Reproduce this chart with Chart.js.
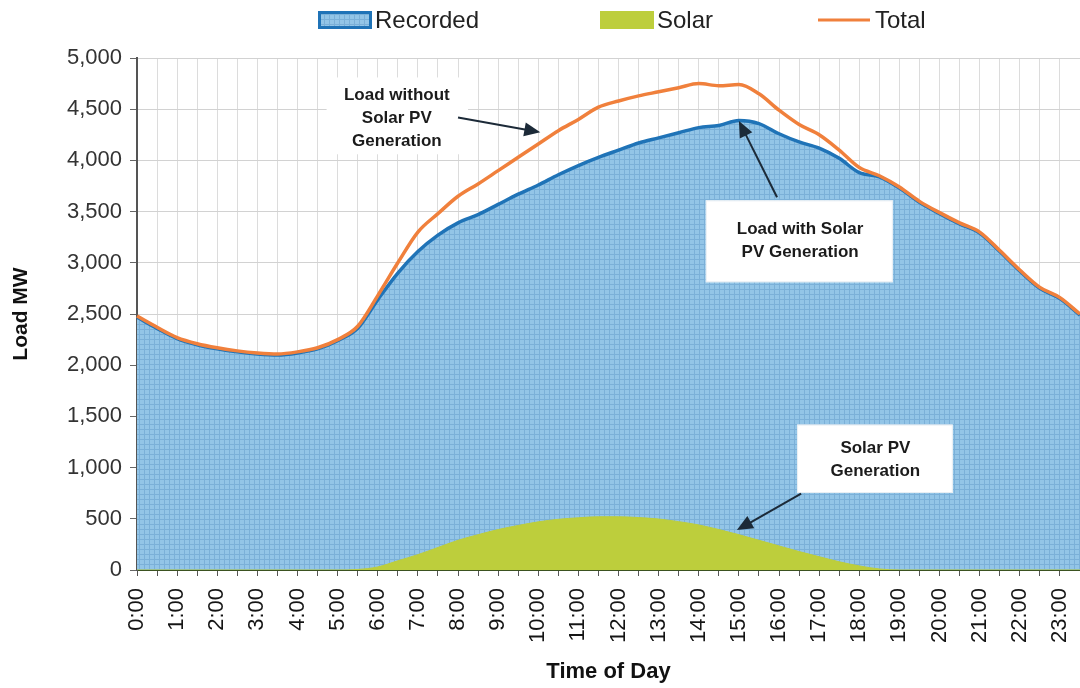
<!DOCTYPE html>
<html>
<head>
<meta charset="utf-8">
<script src="https://cdn.jsdelivr.net/npm/chart.js@4.4.1/dist/chart.umd.min.js"></script>
<style>
html, body { margin: 0; padding: 0; background: #fff; }
</style>
</head>
<body>
<canvas id="chart" width="1080" height="688"></canvas>
<script>
// half-hour steps through the day
var times = ['0:00','0:30','1:00','1:30','2:00','2:30','3:00','3:30','4:00','4:30','5:00','5:30',
             '6:00','6:30','7:00','7:30','8:00','8:30','9:00','9:30','10:00','10:30','11:00','11:30',
             '12:00','12:30','13:00','13:30','14:00','14:30','15:00','15:30','16:00','16:30','17:00','17:30',
             '18:00','18:30','19:00','19:30','20:00','20:30','21:00','21:30','22:00','22:30','23:00','23:30'];

// load with solar (MW)
var recorded = [2470,2360,2260,2200,2160,2130,2110,2100,2120,2160,2240,2360,
                2640,2900,3110,3270,3390,3470,3570,3670,3760,3860,3950,4030,
                4100,4170,4220,4270,4320,4340,4390,4360,4260,4180,4120,4020,
                3880,3840,3730,3590,3480,3380,3290,3110,2920,2750,2650,2490];

// solar PV output (MW)
var solar = [0,0,0,0,0,0,0,0,0,0,0,5,
             30,90,150,220,290,345,395,435,470,495,510,520,
             520,512,498,472,440,395,345,290,235,180,130,80,
             40,10,0,0,0,0,0,0,0,0,0,0];

// load without solar (MW)
var total = [2480,2370,2270,2210,2170,2140,2120,2110,2130,2170,2250,2380,
             2680,3000,3300,3480,3650,3770,3900,4030,4160,4290,4400,4520,
             4580,4630,4670,4710,4750,4730,4740,4650,4490,4350,4250,4100,
             3930,3850,3740,3600,3490,3390,3300,3120,2930,2760,2660,2500];

var seriesNames = ['Recorded', 'Solar', 'Total'];
var yTicks = { min: 0, max: 5000, step: 500 };

// call-outs, placed in data units: [index, MW]
var notes = [
    { lines: ['Load without', 'Solar PV', 'Generation'], at: [12.95, 4414],
      box: [9.45, 4810, 16.5, 4060], border: false,
      from: [16.0, 4420], to: [20.1, 4275] },
    { lines: ['Load with Solar', 'PV Generation'], at: [33.05, 3213],
      box: [28.35, 3610, 37.67, 2810], border: true,
      from: [31.9, 3640], to: [30.0, 4385] },
    { lines: ['Solar PV', 'Generation'], at: [36.8, 1074],
      box: [32.9, 1420, 40.66, 752], border: true,
      from: [33.1, 745], to: [29.9, 390] }
];

Chart.defaults.font.family = '"Liberation Sans", Arial, sans-serif';

var canvas = document.getElementById('chart');
var ctx = canvas.getContext('2d');

// hatched light blue fill like the original area
var pc = document.createElement('canvas');
pc.width = 5; pc.height = 5;
var pctx = pc.getContext('2d');
pctx.fillStyle = '#93c5e7';
pctx.fillRect(0, 0, 5, 5);
pctx.fillStyle = '#7bb0d8';
pctx.fillRect(4, 0, 1, 5);
pctx.fillRect(0, 4, 5, 1);
var bluePattern = ctx.createPattern(pc, 'repeat');

var colors = {
    recordedLine: '#1f73b7',
    solar: '#bdce3c',
    total: '#f0803c'
};

/**
 * Draw an arrow with a filled head
 */
function arrow(c, x1, y1, x2, y2) {
    var a = Math.atan2(y2 - y1, x2 - x1);
    var len = 16, half = 7;
    c.beginPath();
    c.moveTo(x1, y1);
    c.lineTo(x2 - Math.cos(a) * len * 0.8, y2 - Math.sin(a) * len * 0.8);
    c.stroke();
    c.beginPath();
    c.moveTo(x2, y2);
    c.lineTo(x2 - len * Math.cos(a) + half * Math.sin(a), y2 - len * Math.sin(a) - half * Math.cos(a));
    c.lineTo(x2 - len * Math.cos(a) - half * Math.sin(a), y2 - len * Math.sin(a) + half * Math.cos(a));
    c.closePath();
    c.fill();
}

// legend across the top
var topLegend = {
    id: 'topLegend',
    afterDraw: function(chart) {
        var c = chart.ctx;
        var xs = [318, 600, 818];
        var y = 20;
        c.save();
        c.font = '24px "Liberation Sans", Arial, sans-serif';
        c.textBaseline = 'middle';
        chart.data.datasets.forEach(function(d, i) {
            var x = xs[i];
            if (i === 2) {
                c.strokeStyle = d.borderColor;
                c.lineWidth = 3;
                c.beginPath();
                c.moveTo(x, y);
                c.lineTo(x + 52, y);
                c.stroke();
            } else {
                c.fillStyle = d.backgroundColor;
                c.fillRect(x, y - 9, 54, 18);
                if (i === 0) {
                    c.strokeStyle = d.borderColor;
                    c.lineWidth = 3;
                    c.strokeRect(x + 1.5, y - 7.5, 51, 15);
                }
            }
            c.fillStyle = '#222';
            c.fillText(d.label, x + 57, y + 1);
        });
        c.restore();
    }
};

// call-out boxes and arrows
var callouts = {
    id: 'callouts',
    afterDatasetsDraw: function(chart) {
        var c = chart.ctx;
        var xs = chart.scales.x, ys = chart.scales.y;
        c.save();
        notes.forEach(function(n) {
            var bx1 = xs.getPixelForValue(n.box[0]), by1 = ys.getPixelForValue(n.box[1]);
            var bx2 = xs.getPixelForValue(n.box[2]), by2 = ys.getPixelForValue(n.box[3]);
            c.fillStyle = '#fff';
            c.fillRect(bx1, by1, bx2 - bx1, by2 - by1);
            if (n.border) {
                c.strokeStyle = '#e8eef3';
                c.lineWidth = 1;
                c.strokeRect(bx1 + 0.5, by1 + 0.5, bx2 - bx1 - 1, by2 - by1 - 1);
            }
            var cx = xs.getPixelForValue(n.at[0]);
            var cy = ys.getPixelForValue(n.at[1]);
            var lh = 23;
            c.font = 'bold 17px "Liberation Sans", Arial, sans-serif';
            c.textAlign = 'center';
            c.textBaseline = 'middle';
            c.fillStyle = '#1b1b1b';
            n.lines.forEach(function(t, i) {
                c.fillText(t, cx, cy + (i - (n.lines.length - 1) / 2) * lh);
            });
            c.strokeStyle = '#1c2a38';
            c.fillStyle = '#1c2a38';
            c.lineWidth = 2;
            arrow(c,
                xs.getPixelForValue(n.from[0]), ys.getPixelForValue(n.from[1]),
                xs.getPixelForValue(n.to[0]), ys.getPixelForValue(n.to[1]));
        });
        c.restore();
    }
};

var data = {
    labels: times,
    datasets: [
        {
            label: seriesNames[0],
            data: recorded,
            borderColor: colors.recordedLine,
            backgroundColor: bluePattern,
            borderWidth: 3.5,
            fill: 'origin',
            pointRadius: 0,
            cubicInterpolationMode: 'monotone',
            order: 3
        },
        {
            label: seriesNames[1],
            data: solar,
            borderColor: colors.solar,
            backgroundColor: colors.solar,
            borderWidth: 1,
            fill: 'origin',
            pointRadius: 0,
            cubicInterpolationMode: 'monotone',
            order: 2
        },
        {
            label: seriesNames[2],
            data: total,
            borderColor: colors.total,
            backgroundColor: colors.total,
            borderWidth: 3.5,
            fill: false,
            pointRadius: 0,
            cubicInterpolationMode: 'monotone',
            order: 1
        }
    ]
};

var chart = new Chart(ctx, {
    type: 'line',
    data: data,
    options: {
        responsive: false,
        animation: false,
        layout: { padding: { top: 58, right: 0, left: 0, bottom: 0 } },
        plugins: {
            legend: { display: false },
            tooltip: { enabled: false }
        },
        scales: {
            x: {
                offset: false,
                ticks: {
                    autoSkip: false,
                    minRotation: 90,
                    maxRotation: 90,
                    padding: 12,
                    color: '#151515',
                    font: { size: 22 },
                    callback: function(v) {
                        var l = this.getLabelForValue(v);
                        return l.slice(-3) === ':00' ? l : '';
                    }
                },
                grid: { color: '#dcdcdc', tickLength: 6, tickColor: '#555', offset: false },
                border: { color: '#3b5220', width: 2 },
                title: {
                    display: true, text: 'Time of Day', color: '#111',
                    font: { size: 22, weight: 'bold' }, padding: { top: 0, bottom: 3 }
                },
                afterFit: function(s) {
                    s.height = 118;
                    s.paddingLeft = 0;
                    s.paddingRight = 0;
                }
            },
            y: {
                min: yTicks.min,
                max: yTicks.max,
                ticks: { stepSize: yTicks.step, padding: 8, color: '#333', font: { size: 22 } },
                grid: { color: '#d2d2d2', tickLength: 7, tickColor: '#666' },
                border: { color: '#555', width: 2 },
                title: {
                    display: true, text: 'Load MW', color: '#111',
                    font: { size: 21, weight: 'bold' }, padding: { top: 9, bottom: 0 }
                },
                afterFit: function(s) {
                    s.width = 137;
                }
            }
        }
    },
    plugins: [callouts, topLegend]
});
</script>
</body>
</html>
